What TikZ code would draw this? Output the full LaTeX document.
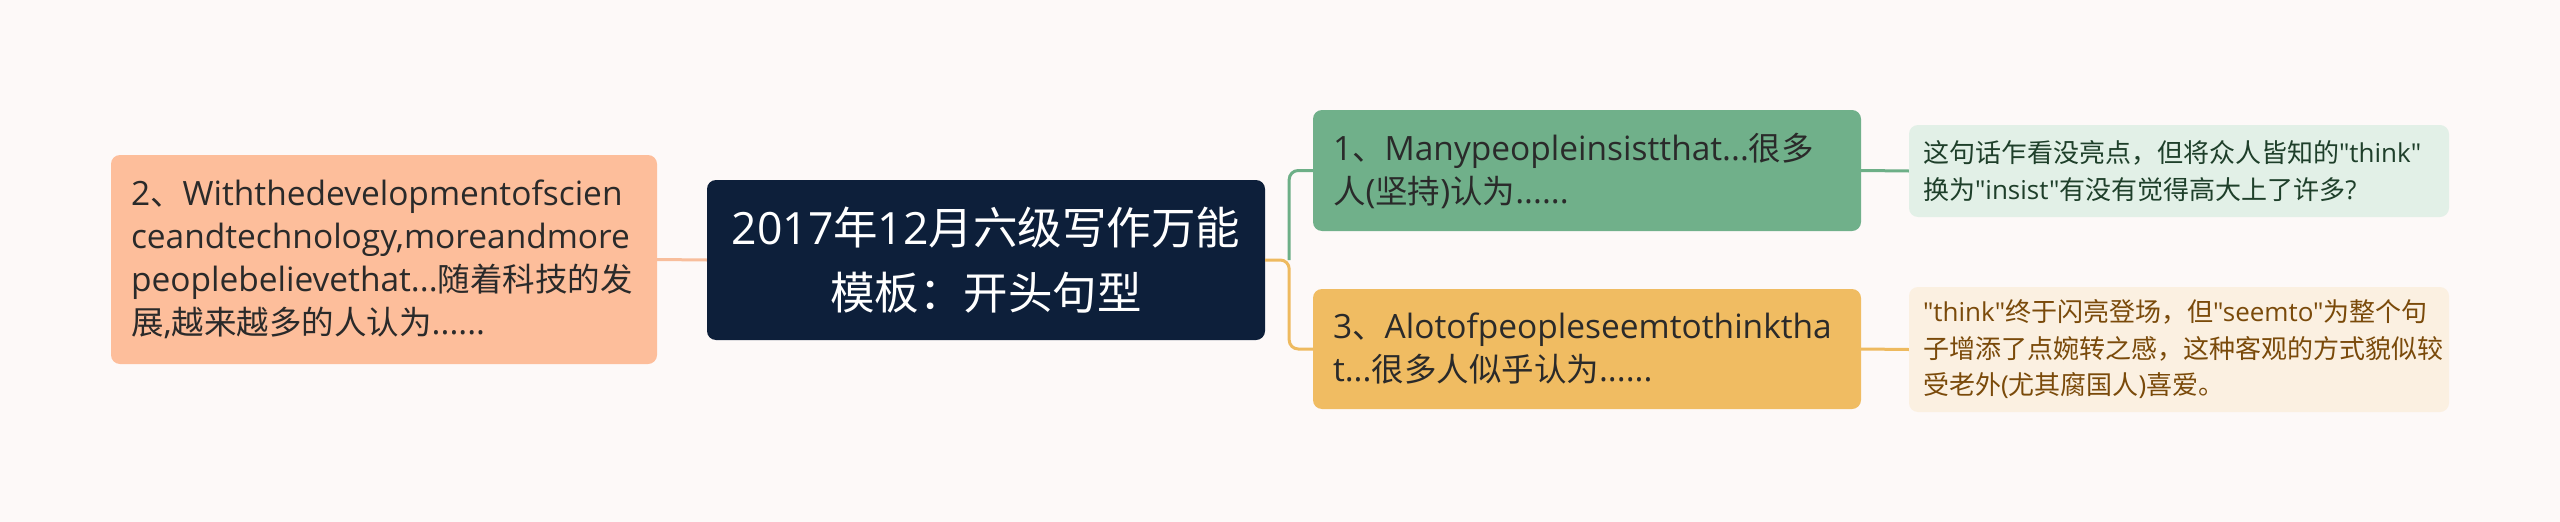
\documentclass[tikz,border=0pt]{standalone}
\usepackage{fontspec}
\setmainfont{Open Sans}[Ligatures=TeXOff]
\newfontfamily\latinnormal{Open Sans}[Ligatures=TeXOff]
\newfontfamily\latinwide{Open Sans}[Ligatures=TeXOff,Scale=1.03]
\newfontfamily\cjkfont{Noto Sans CJK SC}[Ligatures=TeXOff]
\let\latinfont\latinnormal
\XeTeXinterchartokenstate=1
\newXeTeXintercharclass\cjkclass
\newcount\cc
\cc="3000 \loop \XeTeXcharclass\cc=\cjkclass \advance\cc 1 \ifnum\cc<"3040 \repeat
\cc="4E00 \loop \XeTeXcharclass\cc=\cjkclass \advance\cc 1 \ifnum\cc<"A000 \repeat
\cc="FF00 \loop \XeTeXcharclass\cc=\cjkclass \advance\cc 1 \ifnum\cc<"FFF0 \repeat
\XeTeXinterchartoks 0 \cjkclass = {\cjkfont}
\XeTeXinterchartoks 4095 \cjkclass = {\cjkfont}
\XeTeXinterchartoks \cjkclass 0 = {\latinfont}
\definecolor{bg}{HTML}{FDF9F8}
\definecolor{peach}{HTML}{FDBE9B}
\definecolor{navy}{HTML}{0D1F3A}
\definecolor{mgreen}{HTML}{70B08A}
\definecolor{morange}{HTML}{F0BC62}
\definecolor{ngreen}{HTML}{E2F0E7}
\definecolor{ncream}{HTML}{FBF0E1}
\definecolor{lpeach}{HTML}{F8BE9C}
\definecolor{lgreen}{HTML}{6DAF87}
\definecolor{lorange}{HTML}{EEBA5F}
\definecolor{tdark}{HTML}{2A2A2A}
\definecolor{tgreen}{HTML}{1E3F2A}
\definecolor{tbrown}{HTML}{7A4A0A}
\begin{document}
\begin{tikzpicture}[x=1pt,y=-1pt,
  box/.style={rectangle, rounded corners=9pt, inner ysep=0pt, align=left},
  mainfont/.style={font={\fontsize{32.5}{43}\latinwide\let\latinfont\latinwide}},
  notefont/.style={font=\fontsize{26}{36.5}\selectfont},
  conn/.style={line width=3pt}
]
\fill[bg] (0,0) rectangle (2560,522);
\useasboundingbox (0,0) rectangle (2560,522);

\node[box, mainfont, fill=peach, text=tdark, minimum width=546pt, minimum height=209pt,
  inner xsep=20pt, text width=506pt] (left) at (384,259.5)
  {2、Withthedevelopmentofscien\\ceandtechnology,moreandmore\\peoplebelievethat...随着科技的发\\展,越来越多的人认为......};

\node[box, fill=navy, text=white, align=center, minimum width=558pt, minimum height=160pt,
  font=\fontsize{44.5}{65}\selectfont] (center) at (986,260)
  {2017年12月六级写作万能\\模板：开头句型};

\node[box, mainfont, fill=mgreen, text=tdark, minimum width=548pt, minimum height=121pt,
  inner xsep=20pt, text width=508pt] (green) at (1587,170.5)
  {1、Manypeopleinsistthat...很多\\人(坚持)认为......};

\node[box, mainfont, fill=morange, text=tdark, minimum width=548pt, minimum height=120pt,
  inner xsep=20pt, text width=508pt] (orange) at (1587,349)
  {3、Alotofpeopleseemtothinktha\\t...很多人似乎认为......};

\node[box, notefont, fill=ngreen, text=tgreen, minimum width=540pt, minimum height=92pt,
  inner xsep=14pt, text width=512pt] (note1) at (2179,171)
  {这句话乍看没亮点，但将众人皆知的"think"\\换为"insist"有没有觉得高大上了许多?};

\node[box, notefont, fill=ncream, text=tbrown, minimum width=540pt, minimum height=125pt,
  inner xsep=14pt, text width=512pt] (note2) at (2179,349.5)
  {"think"终于闪亮登场，但"seemto"为整个句\\子增添了点婉转之感，这种客观的方式貌似较\\受老外(尤其腐国人)喜爱。};

\coordinate (j) at ([xshift=24pt]center.east);
\draw[conn, lpeach] (left.east) -- (center.west);
\draw[conn, lorange, rounded corners=9pt] (center.east) -- (j) |- (orange.west);
\draw[conn, lgreen, rounded corners=9pt] (j) |- (green.west);
\draw[conn, lgreen] (green.east) -- (note1.west);
\draw[conn, lorange] (orange.east) -- (note2.west);
\end{tikzpicture}
\end{document}
